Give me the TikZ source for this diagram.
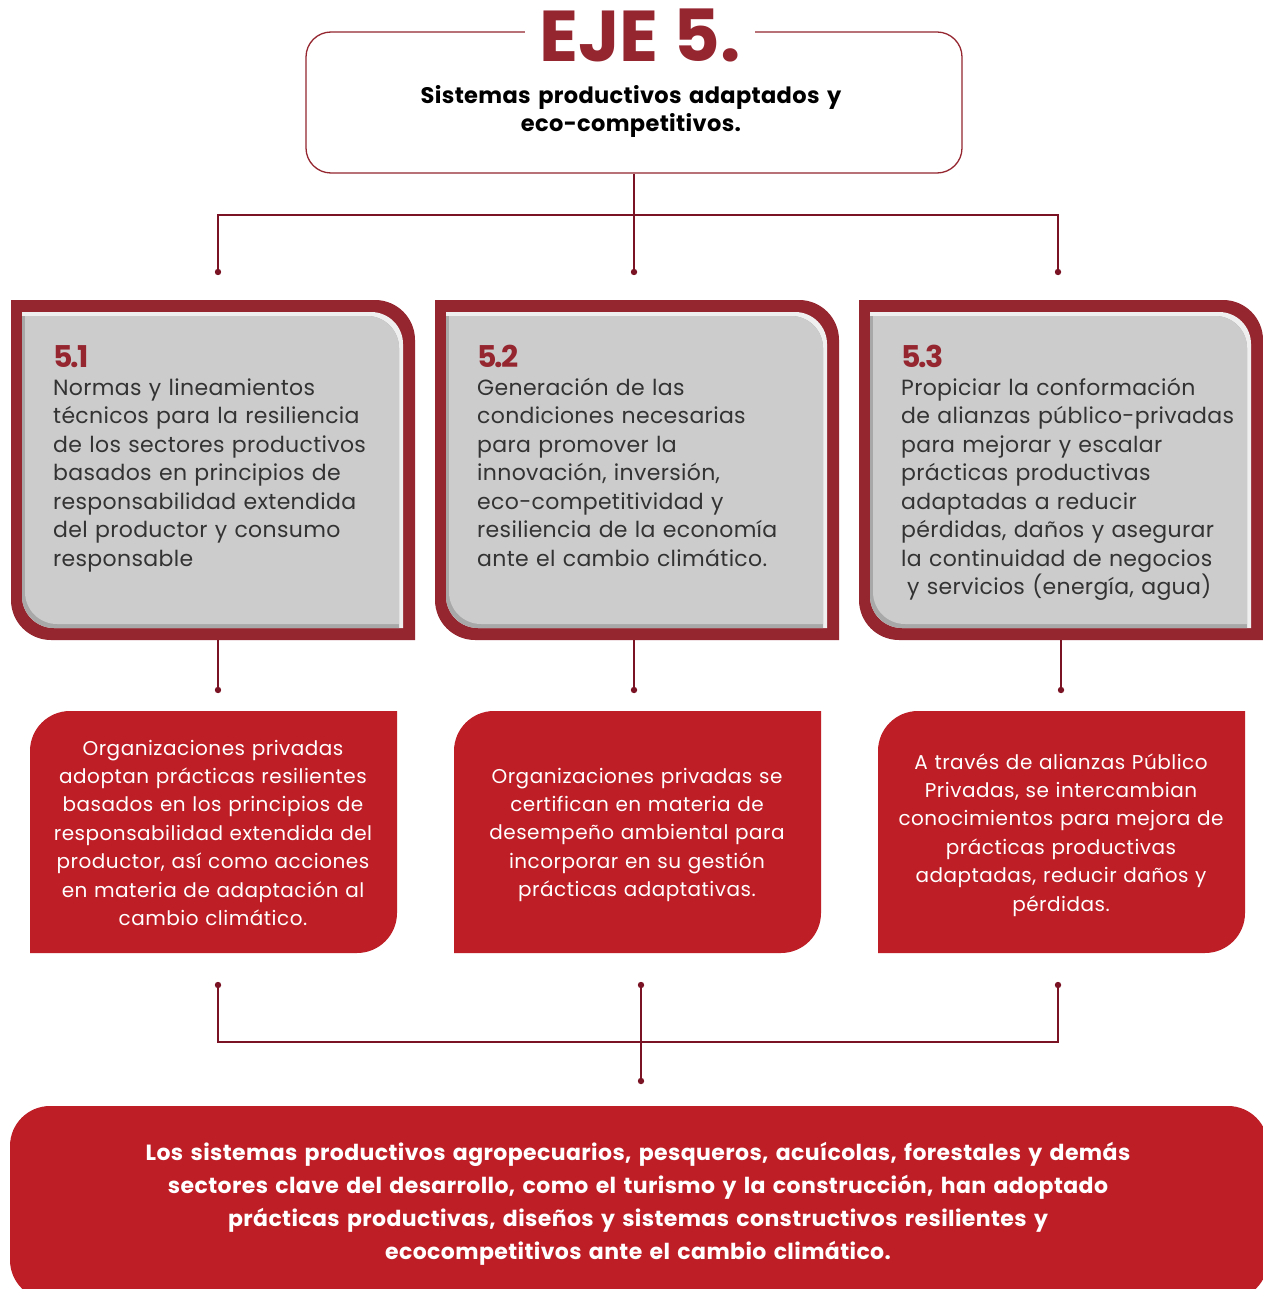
\documentclass[tikz,border=0pt]{standalone}
\usepackage{fontspec}
\setmainfont{Poppins}
\definecolor{frame}{HTML}{952630}
\definecolor{boxred}{HTML}{BE1E26}
\definecolor{connclr}{HTML}{7A1424}
\definecolor{greyfill}{HTML}{CCCCCC}
\definecolor{greylight}{HTML}{EFEFEF}
\definecolor{greyshade}{HTML}{A8A8A8}
\definecolor{greytext}{HTML}{333333}
\tikzset{
  link/.style={draw=connclr, line width=1.3},
  dotmark/.style={fill=connclr},
  numtext/.style={anchor=base west, inner sep=0, text=frame, font=\bfseries\fontsize{30}{30}\selectfont\addfontfeature{LetterSpace=-6}},
  bodytext/.style={anchor=base west, inner sep=0, text=greytext, align=left, text width=370, font=\fontsize{22}{28.5}\selectfont\addfontfeature{LetterSpace=1.5}},
  redtext/.style={anchor=base, inner sep=0, text=white, align=center, text width=366, font=\fontsize{20}{28.4}\selectfont\addfontfeature{LetterSpace=2.5}},
}
\begin{document}
\begin{tikzpicture}[x=1pt,y=1pt]
\useasboundingbox (0,0) rectangle (1262,-1289);
\fill[white] (0,0) rectangle (1262,-1289);

% top box
\node[draw=frame, line width=1.3, rounded corners=25, minimum width=656, minimum height=141, inner sep=0] (top) at (634,-102.5) {};
\node[fill=white, text=frame, font=\bfseries\fontsize{72}{72}\selectfont, inner xsep=14, inner ysep=0, anchor=base] (title) at (640,-62) {EJE 5.};
\node[anchor=base, inner sep=0, align=center, text width=600, font=\bfseries\fontsize{22.5}{28}\selectfont\addfontfeature{LetterSpace=1.5}] (sub) at (631,-104) {Sistemas productivos adaptados y\\eco-competitivos.};

% connectors top
\coordinate (tl) at (218,-215);
\coordinate (tr) at (1058,-215);
\coordinate (a1) at (218,-272);
\coordinate (a2) at (634,-272);
\coordinate (a3) at (1058,-272);
\draw[link] (top.south) -- (a2);
\draw[link] (a1) -- (tl) -- (tr) -- (a3);
\foreach \p in {a1,a2,a3} \fill[dotmark] (\p) circle[radius=3.2];

% grey boxes
\foreach \dx in {0,424,848} {
\begin{scope}[xshift=\dx]
  \fill[frame] (11,-300) -- (375,-300) arc[start angle=90,end angle=0,radius=40] -- (415,-640) -- (51,-640) arc[start angle=270,end angle=180,radius=40] -- cycle;
  \fill[greylight] (22,-312) -- (371,-312) arc[start angle=90,end angle=0,radius=32] -- (403,-628) -- (54,-628) arc[start angle=270,end angle=180,radius=32] -- cycle;
  \fill[greyshade] (22,-316) -- (367,-316) arc[start angle=90,end angle=0,radius=32] -- (399,-628) -- (54,-628) arc[start angle=270,end angle=180,radius=32] -- cycle;
  \fill[greyfill] (25,-316) -- (367,-316) arc[start angle=90,end angle=0,radius=32] -- (399,-624) -- (57,-624) arc[start angle=270,end angle=180,radius=32] -- cycle;
\end{scope}
}
\node[numtext] (n1) at (53,-367) {5.1};
\node[numtext] (n2) at (477,-367) {5.2};
\node[numtext] (n3) at (901,-367) {5.3};
\node[bodytext] (g1) at (53,-395) {Normas y lineamientos\\técnicos para la resiliencia\\de los sectores productivos\\basados en principios de\\responsabilidad extendida\\del productor y consumo\\responsable};
\node[bodytext] (g2) at (477,-395) {Generación de las\\condiciones necesarias\\para promover la\\innovación, inversión,\\eco-competitividad y\\resiliencia de la economía\\ante el cambio climático.};
\node[bodytext] (g3) at (901,-395) {Propiciar la conformación\\de alianzas público-privadas\\para mejorar y escalar\\prácticas productivas\\adaptadas a reducir\\pérdidas, daños y asegurar\\la continuidad de negocios\\\hspace*{6pt}y servicios (energía, agua)};

% connectors middle
\coordinate (g1b) at (218,-640);
\coordinate (g2b) at (634,-640);
\coordinate (g3b) at (1061,-640);
\coordinate (b1) at (218,-690);
\coordinate (b2) at (634,-690);
\coordinate (b3) at (1061,-690);
\draw[link] (g1b) -- (b1);
\draw[link] (g2b) -- (b2);
\draw[link] (g3b) -- (b3);
\foreach \p in {b1,b2,b3} \fill[dotmark] (\p) circle[radius=3.2];

% red boxes
\foreach \dx in {0,424,848} {
\begin{scope}[xshift=\dx]
  \fill[boxred] (70,-711) -- (397,-711) -- (397,-913) arc[start angle=0,end angle=-90,radius=40] -- (30,-953) -- (30,-751) arc[start angle=180,end angle=90,radius=40] -- cycle;
\end{scope}
}
\node[redtext] (r1) at (213,-755) {Organizaciones privadas\\adoptan prácticas resilientes\\basados en los principios de\\responsabilidad extendida del\\productor, así como acciones\\en materia de adaptación al\\cambio climático.};
\node[redtext] (r2) at (637,-783) {Organizaciones privadas se\\certifican en materia de\\desempeño ambiental para\\incorporar en su gestión\\prácticas adaptativas.};
\node[redtext] (r3) at (1061,-769) {A través de alianzas Público\\Privadas, se intercambian\\conocimientos para mejora de\\prácticas productivas\\adaptadas, reducir daños y\\pérdidas.};

% connectors bottom
\coordinate (c1) at (218,-985);
\coordinate (c2) at (641,-985);
\coordinate (c3) at (1058,-985);
\coordinate (h1) at (218,-1042);
\coordinate (h3) at (1058,-1042);
\coordinate (c4) at (641,-1081);
\draw[link] (c1) -- (h1) -- (h3) -- (c3);
\draw[link] (c2) -- (c4);
\foreach \p in {c1,c2,c3,c4} \fill[dotmark] (\p) circle[radius=3.2];

% bottom box
\fill[boxred, rounded corners=40] (10,-1106) rectangle (1268,-1300);
\node[anchor=base, inner sep=0, text=white, align=center, text width=1180, font=\bfseries\fontsize{22}{33.3}\selectfont\addfontfeature{LetterSpace=1.8}] (final) at (638,-1160) {Los sistemas productivos agropecuarios, pesqueros, acuícolas, forestales y demás\\sectores clave del desarrollo, como el turismo y la construcción, han adoptado\\prácticas productivas, diseños y sistemas constructivos resilientes y\\ecocompetitivos ante el cambio climático.};
\end{tikzpicture}
\end{document}
